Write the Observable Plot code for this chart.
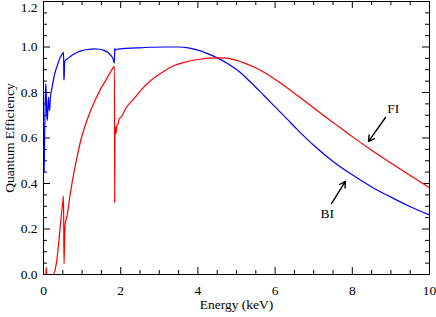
<!DOCTYPE html>
<html><head><meta charset="utf-8">
<script src="https://cdn.jsdelivr.net/npm/d3@7"></script>
<script src="https://cdn.jsdelivr.net/npm/@observablehq/plot@0.6"></script>
<style>
body{margin:0;background:#fff}
svg text{font-family:"Liberation Serif","DejaVu Serif",serif !important;font-size:13.5px !important;}
</style>
</head><body><div id="chart"></div>
<script>
// BI (back-illuminated) curve
const biEnergy = [0.016,0.03,0.05,0.06,0.07,0.085,0.10,0.115,0.13,0.145,0.16,0.175,0.19,0.22,0.27,0.32,0.36,0.42,0.49,0.52,0.528,0.535,0.545,0.56,0.62,0.75,0.88,1.0,1.15,1.31,1.45,1.57,1.68,1.75,1.80,1.83,1.838,1.845,1.86,1.9,2.0,2.4,2.78,3.2,3.5,3.75,4.0,4.2,4.54,4.85,5.1,5.32,5.71,6.0,6.3,6.57,7.0,7.5,8.0,8.5,9.0,9.5,10.0];
const biQE = [0.45,0.62,0.80,0.838,0.80,0.70,0.677,0.74,0.78,0.73,0.72,0.77,0.794,0.82,0.867,0.90,0.919,0.95,0.97,0.977,0.86,0.855,0.93,0.94,0.948,0.965,0.977,0.984,0.989,0.992,0.99,0.985,0.975,0.962,0.948,0.933,0.93,0.995,0.985,0.99,0.992,0.996,0.999,1.0,1.0,0.996,0.986,0.974,0.949,0.919,0.888,0.853,0.787,0.737,0.685,0.638,0.568,0.497,0.438,0.385,0.340,0.298,0.262];
// FI (front-illuminated) curve
const fiEnergy = [0.02,0.06,0.075,0.085,0.10,0.25,0.30,0.35,0.40,0.45,0.50,0.515,0.525,0.532,0.545,0.56,0.58,0.62,0.68,0.75,0.85,0.965,1.1,1.22,1.35,1.48,1.6,1.72,1.83,1.838,1.843,1.85,1.86,1.87,1.88,1.9,1.93,1.96,2.0,2.15,2.34,2.55,2.78,3.0,3.29,3.6,4.0,4.3,4.54,4.7,4.85,5.2,5.45,5.71,6.1,6.57,7.0,7.43,7.69,8.0,8.5,9.0,9.5,10.0];
const fiQE = [0.0,0.0,0.03,0.0,0.0,0.0,0.02,0.07,0.15,0.24,0.32,0.345,0.20,0.047,0.14,0.22,0.237,0.267,0.34,0.413,0.50,0.589,0.665,0.72,0.77,0.816,0.85,0.885,0.914,0.915,0.318,0.60,0.64,0.647,0.62,0.655,0.66,0.685,0.69,0.735,0.772,0.815,0.853,0.88,0.911,0.93,0.945,0.951,0.952,0.951,0.948,0.93,0.912,0.889,0.846,0.788,0.732,0.677,0.645,0.606,0.546,0.49,0.435,0.381];

// annotations
const labelText = ["FI","BI"];
const labelX = [9.06, 7.35];
const labelY = [0.73, 0.267];
const arrowX1 = [8.86, 7.46];
const arrowY1 = [0.69, 0.312];
const arrowX2 = [8.42, 7.82];
const arrowY2 = [0.585, 0.409];

const xMajor = [0,2,4,6,8,10];
const xMinor = [0.5,1,1.5,2.5,3,3.5,4.5,5,5.5,6.5,7,7.5,8.5,9,9.5];
const yMajor = [0,0.2,0.4,0.6,0.8,1.0,1.2];
const yMinor = [0.05,0.1,0.15,0.25,0.3,0.35,0.45,0.5,0.55,0.65,0.7,0.75,0.85,0.9,0.95,1.05,1.1,1.15];

const bi = biEnergy.map((e,i)=>({e, q: biQE[i]}));
const fi = fiEnergy.map((e,i)=>({e, q: fiQE[i]}));
const labels = labelText.map((t,i)=>({t, x: labelX[i], y: labelY[i]}));
const arrows = arrowX1.map((x1,i)=>({x1, y1: arrowY1[i], x2: arrowX2[i], y2: arrowY2[i]}));

const W = 436, H = 317, mL = 43, mR = 7, mT = 1, mB = 43;
const innerW = W - mL - mR, innerH = H - mT - mB;
const MAJ = 7, MIN = 4;
const font = "Liberation Serif, DejaVu Serif, serif";
const yTop = yMajor[yMajor.length - 1];

const chart = Plot.plot({
  width: W, height: H,
  marginLeft: mL, marginRight: mR, marginTop: mT, marginBottom: mB,
  style: {fontFamily: font, fontSize: "13.5px", background: "#fff", color: "#000", overflow: "visible"},
  x: {domain: [0, 10], axis: null},
  y: {domain: [0, 1.2], axis: null},
  marks: [
    // ticks (inward)
    Plot.tickX(xMajor, {x: d => d, insetTop: innerH - MAJ, stroke: "#000"}),
    Plot.tickX(xMajor, {x: d => d, insetBottom: innerH - MAJ, stroke: "#000"}),
    Plot.tickX(xMinor, {x: d => d, insetTop: innerH - MIN, stroke: "#000"}),
    Plot.tickX(xMinor, {x: d => d, insetBottom: innerH - MIN, stroke: "#000"}),
    Plot.tickY(yMajor, {y: d => d, insetRight: innerW - MAJ, stroke: "#000"}),
    Plot.tickY(yMajor, {y: d => d, insetLeft: innerW - MAJ, stroke: "#000"}),
    Plot.tickY(yMinor, {y: d => d, insetRight: innerW - MIN, stroke: "#000"}),
    Plot.tickY(yMinor, {y: d => d, insetLeft: innerW - MIN, stroke: "#000"}),
    Plot.axisX(xMajor, {tickSize: 0, tickPadding: 11, label: null, tickFormat: d => String(d)}),
    Plot.axisY(yMajor.filter(d => d < yTop), {tickSize: 0, tickPadding: 6, label: null, tickFormat: d => d.toFixed(1)}),
    Plot.axisY([yTop], {tickSize: 0, tickPadding: 6, label: null, dy: 6, tickFormat: d => d.toFixed(1)}),
    Plot.text(["Energy (keV)"], {frameAnchor: "bottom", textAnchor: "middle", dy: 34, text: d => d}),
    Plot.text(["Quantum Efficiency"], {frameAnchor: "left", textAnchor: "middle", lineAnchor: "middle", dx: -34, rotate: -90, text: d => d}),
    // curves
    Plot.line(bi, {x: "e", y: "q", stroke: "#0000ff", strokeWidth: 1.2, curve: "monotone-x"}),
    Plot.line(fi, {x: "e", y: "q", stroke: "#ff0000", strokeWidth: 1.2, curve: "monotone-x"}),
    // annotations
    Plot.arrow(arrows, {x1: "x1", y1: "y1", x2: "x2", y2: "y2", stroke: "#000", strokeWidth: 1.4, headLength: 7}),
    Plot.text(labels, {x: "x", y: "y", text: "t", fill: "#000"}),
    Plot.frame({stroke: "#000", strokeWidth: 1})
  ]
});
document.getElementById("chart").appendChild(chart);
</script>
</body></html>
